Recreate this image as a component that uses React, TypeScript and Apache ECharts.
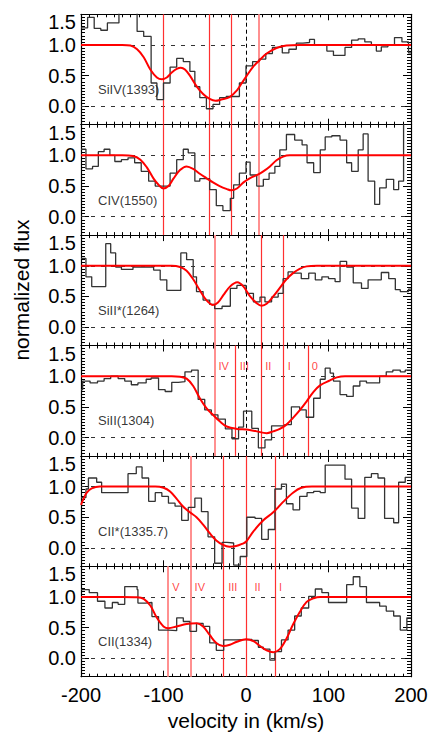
import React, { useEffect, useRef } from 'react';
import * as echarts from 'echarts';

const FONT = "'Liberation Sans', Arial, Helvetica, sans-serif";

const PANEL_LABELS = ['SiIV(1393)', 'CIV(1550)', 'SiII*(1264)', 'SiII(1304)', 'CII*(1335.7)', 'CII(1334)'];
const X_TICKS = [-200, -100, 0, 100, 200];
const Y_MAJOR_TICKS = [0, 0.5, 1.0, 1.5];

// histograms: [left bin edge (km/s), normalized flux]
const siIVHist = [[-200,1.28],[-192,1.45],[-184,1.27],[-176,1.24],[-168,1.36],[-154,1.7],[-132,1.22],[-124,1.14],[-115,0.38],[-108,0.11],[-100,0.38],[-92,0.64],[-84,0.78],[-76,0.73],[-68,0.57],[-62,0.32],[-56,0.14],[-48,-0.04],[-40,0.03],[-32,0.14],[-24,0.16],[-8,0.38],[0,0.66],[8,0.73],[16,0.77],[24,0.86],[32,0.96],[44,0.87],[52,0.93],[61,1.03],[69,1.04],[77,1.09],[83,1.0],[98,0.9],[106,0.83],[120,0.96],[128,1.08],[136,1.1],[144,1.05],[152,1.0],[158,0.9],[164,0.97],[172,1.0],[180,1.12],[189,1.05],[197,0.87]];
const cIVHist = [[-200,1.1],[-194,0.78],[-186,0.82],[-179,1.06],[-172,1.1],[-165,1.0],[-159,0.9],[-151,0.93],[-143,0.96],[-135,0.88],[-127,0.74],[-118,0.58],[-110,0.5],[-92,0.71],[-84,0.93],[-76,1.1],[-70,1.04],[-62,0.58],[-56,0.62],[-44,0.44],[-36,0.18],[-28,0.1],[-19,0.3],[-15,0.52],[-8,0.71],[0,0.89],[5,0.68],[13,0.5],[21,0.61],[28,0.71],[35,0.82],[41,1.09],[49,1.34],[59,1.25],[68,1.17],[74,0.88],[82,0.72],[90,1.09],[96,1.3],[104,1.32],[114,1.25],[122,0.88],[128,0.74],[136,1.09],[142,1.35],[148,0.58],[156,0.2],[162,0.47],[170,0.61],[179,0.44],[185,0.58],[191,1.7]];
const siIIsHist = [[-200,1.12],[-194,0.82],[-187,0.66],[-170,1.36],[-164,1.21],[-158,0.98],[-151,0.94],[-137,0.98],[-112,0.93],[-104,0.77],[-96,0.6],[-79,1.21],[-72,1.1],[-64,0.82],[-60,0.58],[-52,0.44],[-44,0.37],[-38,0.3],[-29,0.34],[-19,0.63],[-11,0.68],[0,0.55],[9,0.41],[17,0.49],[23,0.41],[31,0.49],[39,0.55],[45,0.79],[51,0.9],[57,0.88],[67,0.79],[76,0.88],[84,0.77],[92,0.82],[100,0.79],[108,0.74],[114,1.07],[122,0.98],[130,0.72],[140,0.63],[148,0.77],[164,0.89],[173,0.79],[181,0.61],[187,0.58],[197,0.62]];
const siIIHist = [[-200,0.78],[-198,0.92],[-189,0.89],[-180,0.92],[-172,0.96],[-164,1.0],[-155,0.96],[-147,0.92],[-139,0.86],[-131,0.89],[-121,0.95],[-115,0.97],[-106,0.78],[-98,0.75],[-90,0.9],[-82,0.91],[-74,1.07],[-66,1.1],[-58,0.62],[-50,0.45],[-42,0.37],[-34,0.3],[-25,0.14],[-17,-0.02],[-9,0.17],[-3,0.43],[7,0.15],[15,-0.17],[23,-0.04],[31,0.19],[47,0.21],[55,0.5],[65,0.45],[73,0.33],[82,0.64],[90,0.95],[96,1.13],[102,1.05],[106,0.92],[114,0.7],[122,0.67],[130,0.84],[138,0.92],[146,0.89],[162,1.0],[170,1.07],[178,1.1],[187,1.07],[193,1.1]];
const cIIsHist = [[-200,0.82],[-194,0.96],[-191,1.14],[-181,1.07],[-175,0.9],[-143,1.21],[-133,1.32],[-126,1.14],[-118,0.76],[-110,0.9],[-102,0.84],[-94,0.73],[-86,0.68],[-78,0.45],[-70,0.66],[-62,0.81],[-54,0.59],[-46,0.18],[-38,-0.25],[-29,0.09],[-23,0.08],[-15,-0.28],[-7,-0.14],[1,0.5],[11,0.48],[19,0.14],[27,0.3],[35,0.96],[43,1.04],[49,0.72],[57,0.62],[65,0.84],[74,0.9],[82,0.92],[90,0.9],[96,1.35],[120,1.12],[128,0.65],[136,0.48],[144,1.15],[152,1.21],[160,1.14],[168,0.48],[179,0.41],[185,1.07],[193,1.15]];
const cIIHist = [[-200,1.12],[-190,1.07],[-180,0.93],[-171,0.82],[-162,0.91],[-155,0.88],[-147,1.17],[-132,1.12],[-131,0.9],[-122,0.91],[-114,0.68],[-106,0.46],[-94,0.45],[-84,0.66],[-76,0.6],[-68,0.44],[-60,0.57],[-52,0.52],[-44,0.25],[-36,0.13],[-27,0.3],[-11,0.31],[7,0.29],[15,0.18],[21,0.15],[29,-0.03],[35,0.11],[43,0.3],[51,0.46],[59,0.69],[67,0.82],[76,1.01],[84,1.13],[92,1.07],[100,0.91],[122,1.2],[130,1.33],[138,1.17],[146,0.91],[162,0.85],[170,0.77],[179,0.69],[187,0.46],[195,0.66]];

// model fits: [velocity, flux]
const siIVFit = [[-200,1],[-170,1],[-150,1],[-140,0.99],[-132,0.93],[-124,0.8],[-116,0.6],[-108,0.47],[-102,0.44],[-96,0.47],[-90,0.55],[-84,0.61],[-79,0.63],[-74,0.6],[-68,0.5],[-60,0.33],[-52,0.2],[-44,0.12],[-37,0.09],[-30,0.11],[-20,0.15],[-11,0.26],[-5,0.38],[0,0.48],[9,0.65],[17,0.76],[25,0.86],[37,0.95],[49,0.99],[65,1],[90,1],[200,1]];
const cIVFit = [[-200,1],[-170,1],[-150,1],[-137,0.99],[-128,0.93],[-120,0.8],[-112,0.62],[-106,0.52],[-100,0.46],[-94,0.5],[-88,0.62],[-80,0.76],[-72,0.82],[-64,0.78],[-56,0.7],[-48,0.63],[-40,0.56],[-32,0.5],[-23,0.45],[-18,0.43],[-11,0.46],[-3,0.56],[5,0.63],[15,0.69],[21,0.74],[29,0.82],[37,0.92],[45,0.98],[53,1],[70,1],[200,1]];
const siIIsFit = [[-200,1],[-110,1],[-90,1],[-80,0.98],[-72,0.92],[-64,0.78],[-56,0.6],[-48,0.44],[-40,0.36],[-34,0.4],[-27.5,0.52],[-19.5,0.66],[-10.5,0.73],[-3,0.66],[5,0.5],[13,0.39],[19,0.35],[25,0.38],[33,0.5],[41,0.64],[49,0.78],[57,0.88],[65,0.95],[73.5,0.99],[86,1],[110,1],[200,1]];
const siIIFit = [[-200,1],[-120,1],[-90,1],[-80,0.99],[-72,0.96],[-64,0.84],[-56,0.64],[-48,0.48],[-40,0.37],[-31.5,0.26],[-23.5,0.18],[-11,0.14],[1,0.13],[13,0.1],[25,0.07],[33,0.1],[41,0.14],[49,0.21],[57,0.32],[65.5,0.45],[73.5,0.59],[81.6,0.74],[89.7,0.85],[101.8,0.93],[110,0.98],[120,1],[140,1],[200,1]];
const cIIsFit = [[-200,0.7],[-197,0.8],[-193,0.9],[-187,0.97],[-177,1],[-140,1],[-110,1],[-100,0.98],[-92,0.92],[-84,0.8],[-76,0.67],[-68,0.58],[-60,0.5],[-52,0.38],[-44,0.24],[-36,0.12],[-28,0.05],[-20,0.02],[-12,0.03],[-4,0.07],[0,0.1],[9,0.27],[21,0.45],[33,0.58],[45,0.75],[57,0.9],[67,0.98],[80,1],[110,1],[200,1]];
const cIIFit = [[-200,1],[-150,1],[-132,0.995],[-124,0.97],[-116,0.86],[-108,0.66],[-100,0.52],[-94,0.49],[-84,0.52],[-72,0.56],[-60,0.57],[-52,0.52],[-44,0.38],[-36,0.25],[-28,0.2],[-19.5,0.22],[-11,0.27],[0,0.31],[9,0.28],[17,0.2],[25,0.13],[33,0.1],[41,0.15],[49,0.32],[57,0.55],[65,0.75],[73.5,0.92],[82,0.98],[90,1],[110,1],[200,1]];

// component velocities (km/s)
const siIVStrong = [-100, -44, -18];
const siIVWeak = [15];
const cIVStrong = [-100, -44, -18];
const cIVWeak = [15];
const siIIsStrong = [18, 45];
const siIIsWeak = [-38];
const siIIStrong = [-12.5, 18, 45, 75.5];
const siIIWeak = [-38];
const cIIsStrong = [-28, 0, 35.5];
const cIIsWeak = [-67.5];
const cIIStrong = [-28, 0, 35.5];
const cIIWeak = [-95, -67.5];

// component labels: [text, velocity]
const siIICompLabels = [['IV', -27], ['III', -2], ['II', 27], ['I', 52.5], ['0', 83.5]];
const cIICompLabels = [['V', -85], ['IV', -56], ['III', -16], ['II', 14], ['I', 42]];
const COMP_LABEL_Y = 1.16;
const PANEL_LABEL_POS = [-180, 0.27];

const PANELS = [
  { hist: siIVHist, fit: siIVFit, strong: siIVStrong, weak: siIVWeak, comps: [] as any[] },
  { hist: cIVHist, fit: cIVFit, strong: cIVStrong, weak: cIVWeak, comps: [] as any[] },
  { hist: siIIsHist, fit: siIIsFit, strong: siIIsStrong, weak: siIIsWeak, comps: [] as any[] },
  { hist: siIIHist, fit: siIIFit, strong: siIIStrong, weak: siIIWeak, comps: siIICompLabels },
  { hist: cIIsHist, fit: cIIsFit, strong: cIIsStrong, weak: cIIsWeak, comps: [] as any[] },
  { hist: cIIHist, fit: cIIFit, strong: cIIStrong, weak: cIIWeak, comps: cIICompLabels },
];

const GRID_TOP = 14.3;
const GRID_H = 110.4;

export default function App() {
  const ref = useRef<HTMLDivElement>(null);
  useEffect(() => {
    const chart = echarts.init(ref.current!, null, { renderer: 'svg' });
    const grids: any[] = [];
    const xAxes: any[] = [];
    const yAxes: any[] = [];
    const series: any[] = [];
    const lineBlack = { color: '#000', width: 1.2 };
    const isMajor = (v: number) => Y_MAJOR_TICKS.some((t) => Math.abs(t - v) < 1e-6);

    const markSeries = (xi: number, yi: number, data: any[], lineStyle: any, z: number) => ({
      type: 'line', xAxisIndex: xi, yAxisIndex: yi, data: [], symbol: 'none', silent: true, z,
      lineStyle: { opacity: 0 },
      markLine: { silent: true, symbol: ['none', 'none'], label: { show: false }, z, lineStyle, data, animation: false },
    });

    PANELS.forEach((p, i) => {
      const last = i === PANELS.length - 1;
      grids.push({ left: 81, width: 330, top: GRID_TOP + i * GRID_H, height: GRID_H, containLabel: false, outerBoundsMode: 'none' });
      const xBase = (pos: string, labels: boolean) => ({
        type: 'value', gridIndex: i, position: pos, min: X_TICKS[0], max: X_TICKS[X_TICKS.length - 1], interval: 100,
        axisLine: { show: true, onZero: false, lineStyle: lineBlack },
        axisTick: { show: true, inside: true, length: 6, lineStyle: { color: '#000', width: 1 } },
        minorTick: { show: true, splitNumber: 10, length: 3, lineStyle: { color: '#000', width: 1 } },
        splitLine: { show: false },
        minorSplitLine: { show: false },
        axisLabel: { show: labels, fontSize: 20, color: '#000', margin: 8, fontFamily: FONT },
        name: labels ? 'velocity in (km/s)' : '',
        nameLocation: 'middle', nameGap: 33,
        nameTextStyle: { fontSize: 21, color: '#000', fontFamily: FONT },
      });
      xAxes.push(xBase('bottom', last));
      xAxes.push(xBase('top', false));
      const yMinor = (pos: string, labels: boolean) => ({
        type: 'value', gridIndex: i, position: pos, min: -0.3, max: 1.5, interval: 0.05,
        axisLine: { show: true, onZero: false, lineStyle: lineBlack },
        axisTick: { show: true, inside: true, length: 4, lineStyle: { color: '#000', width: 1 } },
        splitLine: { show: false },
        axisLabel: {
          show: labels, customValues: Y_MAJOR_TICKS, fontSize: 20, lineHeight: 16, margin: 5, color: '#000', fontFamily: FONT,
          formatter: (v: number) => (isMajor(v) ? (Math.abs(v - 1.5) < 1e-6 ? '\n1.5' : v.toFixed(1)) : ''),
        },
      });
      const yMajor = (pos: string) => ({
        type: 'value', gridIndex: i, position: pos, min: -0.3, max: 1.5, interval: 0.05,
        axisLine: { show: false, onZero: false },
        axisTick: { show: true, inside: true, length: 8, customValues: Y_MAJOR_TICKS, lineStyle: { color: '#000', width: 1 } },
        splitLine: { show: false },
        axisLabel: { show: false },
      });
      yAxes.push(yMinor('left', true));
      yAxes.push(yMajor('left'));
      yAxes.push(yMinor('right', false));
      yAxes.push(yMajor('right'));

      const xi = 2 * i;
      const yi = 4 * i;
      const histData = p.hist.map((d) => [d[0], d[1]]);
      histData.push([X_TICKS[X_TICKS.length - 1], p.hist[p.hist.length - 1][1]]);

      series.push(markSeries(xi, yi, [{ yAxis: 0 }, { yAxis: 1 }], { color: '#333', width: 1, type: [4, 6] }, 1));
      series.push(markSeries(xi, yi, [{ xAxis: 0 }], { color: '#000', width: 1, type: [4, 3] }, 1));
      series.push(markSeries(xi, yi, p.weak.map((v) => ({ xAxis: v })), { color: '#ff9090', width: 2, type: 'solid' }, 2));
      series.push(markSeries(xi, yi, p.strong.map((v) => ({ xAxis: v })), { color: '#ff3030', width: 1.2, type: 'solid' }, 2));
      series.push({
        type: 'line', xAxisIndex: xi, yAxisIndex: yi, data: histData, step: 'end', symbol: 'none', silent: true,
        lineStyle: { color: '#333', width: 1.3 }, z: 3,
      });
      series.push({
        type: 'line', xAxisIndex: xi, yAxisIndex: yi, data: p.fit, smooth: 0.35, symbol: 'none', silent: true,
        lineStyle: { color: '#ff0000', width: 2 }, z: 4,
      });
      series.push({
        type: 'scatter', xAxisIndex: xi, yAxisIndex: yi, symbolSize: 1, silent: true,
        itemStyle: { color: 'rgba(0,0,0,0)' },
        data: [{ value: PANEL_LABEL_POS, name: PANEL_LABELS[i] }],
        label: { show: true, position: 'right', distance: 0, formatter: '{b}', color: '#000', fontSize: 13, fontFamily: FONT },
        z: 5,
      });
      if (p.comps.length) {
        series.push({
          type: 'scatter', xAxisIndex: xi, yAxisIndex: yi, symbolSize: 1, silent: true,
          itemStyle: { color: 'rgba(0,0,0,0)' },
          data: p.comps.map((c: any) => ({ value: [c[1], COMP_LABEL_Y], name: c[0] })),
          label: { show: true, position: 'inside', formatter: '{b}', color: '#ff1010', fontSize: 11, fontFamily: FONT },
          z: 5,
        });
      }
    });

    chart.setOption({
      animation: false,
      backgroundColor: '#fff',
      grid: grids,
      xAxis: xAxes,
      yAxis: yAxes,
      series,
      graphic: [
        {
          type: 'text', x: 21.5, y: 290, rotation: Math.PI / 2,
          style: { text: 'normalized flux', font: `21px ${FONT}`, fill: '#000', align: 'center', verticalAlign: 'middle', textAlign: 'center', textVerticalAlign: 'middle' },
        },
      ],
    });
    return () => chart.dispose();
  }, []);
  return <div ref={ref} style={{ position: 'absolute', left: 0, top: 0, width: 436, height: 744, background: '#fff' }} />;
}
